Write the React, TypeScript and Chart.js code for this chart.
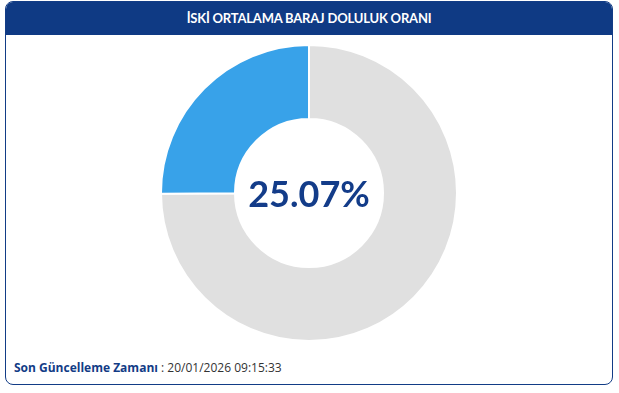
import React, { useEffect, useRef } from "react";
import { Chart, registerables } from "chart.js";

Chart.register(...registerables);

const title = "İSKİ ORTALAMA BARAJ DOLULUK ORANI";
const categories = ["Boş", "Dolu"];
const values = [74.93, 25.07];
const segmentColors = ["#e0e0e0", "#38a2e9"];
const centerLabel = "25.07%";
const updateLabel = "Son Güncelleme Zamanı";
const updateValue = "20/01/2026 09:15:33";

export default function App() {
  const ref = useRef<HTMLCanvasElement | null>(null);
  useEffect(() => {
    if (!ref.current) return;
    const chart = new Chart(ref.current, {
      type: "doughnut",
      data: {
        labels: categories,
        datasets: [
          {
            data: values,
            backgroundColor: segmentColors,
            borderColor: "#ffffff",
            borderWidth: 2,
            hoverOffset: 0,
          },
        ],
      },
      options: {
        animation: false,
        responsive: false,
        maintainAspectRatio: false,
        cutout: "50%",
        plugins: { legend: { display: false }, tooltip: { enabled: false } },
        layout: { padding: 0 },
      },
    });
    return () => chart.destroy();
  }, []);

  return (
    <div style={{ position: "fixed", left: 0, top: 0, width: 619, height: 393, background: "#fff", fontFamily: "Lato, 'Noto Sans', sans-serif" }}>
      <div
        style={{
          position: "absolute",
          left: 5,
          top: 1,
          width: 606,
          height: 382,
          border: "1.5px solid #123c86",
          borderRadius: 8,
          overflow: "hidden",
          background: "#fff",
        }}
      >
        <div
          style={{
            height: 33,
            background: "#0f3a84",
            color: "#fff",
            fontWeight: 700,
            fontSize: 13,
            lineHeight: "33px",
            textAlign: "center",
            letterSpacing: -0.2,
          }}
        >
          {title}
        </div>
        <div
          style={{
            position: "absolute",
            left: 8,
            top: 357,
            fontSize: 12,
            fontFamily: "'Open Sans', sans-serif",
            letterSpacing: 0,
            color: "#333",
            whiteSpace: "nowrap",
          }}
        >
          <span style={{ fontWeight: 700, color: "#123c86" }}>{updateLabel}</span> : {updateValue}
        </div>
      </div>
      <canvas
        ref={ref}
        width={298}
        height={298}
        style={{ position: "absolute", left: 160, top: 44, width: 298, height: 298 }}
      />
      <div
        style={{
          position: "absolute",
          left: 209,
          top: 170,
          width: 200,
          textAlign: "center",
          fontSize: 36,
          fontWeight: 700,
          color: "#133c89",
          lineHeight: "46px",
        }}
      >
        {centerLabel}
      </div>
    </div>
  );
}
